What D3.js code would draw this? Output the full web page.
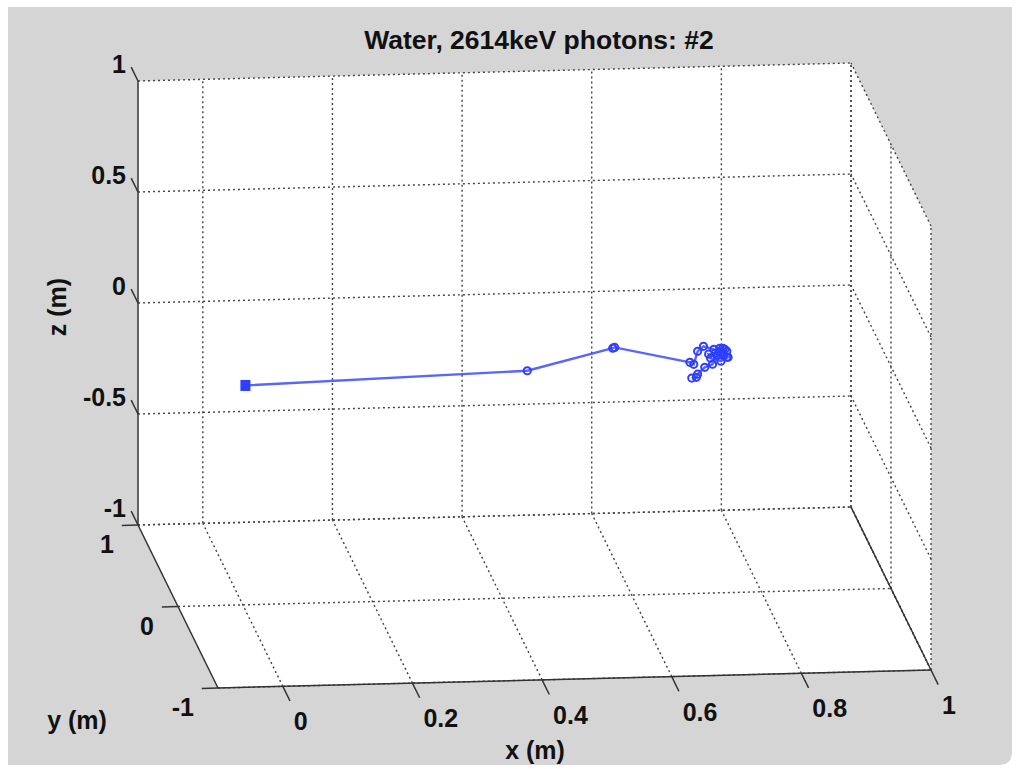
<!DOCTYPE html>
<html><head><meta charset="utf-8">
<script src="https://cdn.jsdelivr.net/npm/d3@7/dist/d3.min.js"></script>
<style>body{margin:0;background:#fff}svg text{font-family:"Liberation Sans",Arial,Helvetica,sans-serif;font-weight:bold;fill:#111}</style>
</head><body>
<svg id="c" width="1019" height="769"></svg>
<script>
// ---------- data ----------
const titleText = "Water, 2614keV photons: #2";
const xLabelText = "x (m)", yLabelText = "y (m)", zLabelText = "z (m)";
const xDomain = [-0.1, 1];
const yDomain = [-1, 1];
const zDomain = [-1, 1];
const xTicks = [0, 0.2, 0.4, 0.6, 0.8, 1];
const yTicks = [-1, 0, 1];
const zTicks = [-1, -0.5, 0, 0.5, 1];
const xTickLabels = ["0", "0.2", "0.4", "0.6", "0.8", "1"];
const yTickLabels = ["-1", "0", "1"];
const zTickLabels = ["-1", "-0.5", "0", "0.5", "1"];
// photon track (interaction points)
const trackX = [0.004, 0.445, 0.583, 0.586, 0.699, 0.708, 0.714, 0.723, 0.739, 0.759, 0.747, 0.744, 0.731, 0.734, 0.750, 0.761, 0.754, 0.753, 0.745, 0.751, 0.759, 0.748, 0.741, 0.756, 0.737, 0.725, 0.714, 0.712, 0.705];
const trackY = [0, 0.10, 0.20, 0.20, 0.15, 0.20, 0.20, 0.20, 0.20, 0.20, 0.20, 0.20, 0.20, 0.20, 0.20, 0.20, 0.20, 0.20, 0.20, 0.20, 0.20, 0.20, 0.20, 0.20, 0.20, 0.20, 0.20, 0.20, 0.20];
const trackZ = [-0.012, -0.015, 0.040, 0.043, -0.014, -0.042, 0.016, 0.038, 0.023, 0.013, 0.014, -0.004, 0.002, -0.017, -0.031, -0.014, -0.005, 0.027, -0.004, 0.009, -0.014, 0.027, 0.005, 0.022, -0.044, -0.057, -0.087, -0.101, -0.104];

// ---------- layout ----------
const W = 1019, H = 769;
const origin = [218, 688];       // screen position of (xmin, ymin, zmin)
const eu = [713, -18];           // full x extent
const ev = [-80, -163];          // full y extent (front -> back)
const ew = [0, -444];            // full z extent
const xs = d3.scaleLinear().domain(xDomain).range([0, 1]);
const ys = d3.scaleLinear().domain(yDomain).range([0, 1]);
const zs = d3.scaleLinear().domain(zDomain).range([0, 1]);
function P(x, y, z) {
  const u = xs(x), v = ys(y), w = zs(z);
  return [origin[0] + u * eu[0] + v * ev[0] + w * ew[0],
          origin[1] + u * eu[1] + v * ev[1] + w * ew[1]];
}
const [x0, x1] = xDomain, [y0, y1] = yDomain, [z0, z1] = zDomain;

const svg = d3.select("#c");
svg.append("rect").attr("width", W).attr("height", H).attr("fill", "#fff");
svg.append("path")
  .attr("d", `M8,7 H1012 V752 Q1012,765 999,765 H8 Z`)
  .attr("fill", "#d5d5d5");

// faces
const poly = pts => "M" + pts.map(p => p.join(",")).join("L") + "Z";
const faces = [
  [P(x0,y1,z0), P(x1,y1,z0), P(x1,y1,z1), P(x0,y1,z1)],
  [P(x0,y0,z0), P(x1,y0,z0), P(x1,y1,z0), P(x0,y1,z0)],
  [P(x1,y0,z0), P(x1,y1,z0), P(x1,y1,z1), P(x1,y0,z1)]
];
svg.selectAll("path.face").data(faces).enter().append("path")
  .attr("class", "face").attr("d", poly).attr("fill", "#fff");

// grid lines
const grid = [];
xTicks.forEach(t => { grid.push([P(t,y1,z0), P(t,y1,z1)]); grid.push([P(t,y0,z0), P(t,y1,z0)]); });
zTicks.forEach(t => { grid.push([P(x0,y1,t), P(x1,y1,t)]); grid.push([P(x1,y0,t), P(x1,y1,t)]); });
yTicks.forEach(t => { grid.push([P(x0,t,z0), P(x1,t,z0)]); grid.push([P(x1,t,z0), P(x1,t,z1)]); });
svg.selectAll("line.grid").data(grid).enter().append("line")
  .attr("class", "grid")
  .attr("x1", d => d[0][0]).attr("y1", d => d[0][1])
  .attr("x2", d => d[1][0]).attr("y2", d => d[1][1])
  .attr("stroke", "#444").attr("stroke-width", 1.4)
  .attr("stroke-dasharray", "2,3");

// axis lines
const axes = [
  [P(x0,y1,z0), P(x0,y1,z1)],
  [P(x0,y0,z0), P(x0,y1,z0)],
  [P(x0,y0,z0), P(x1,y0,z0)],
  [P(x1,y0,z0), P(x1,y1,z0)]
];
svg.selectAll("line.axis").data(axes).enter().append("line")
  .attr("x1", d => d[0][0]).attr("y1", d => d[0][1])
  .attr("x2", d => d[1][0]).attr("y2", d => d[1][1])
  .attr("stroke", "#333").attr("stroke-width", 1.5);

// ticks
const ticks = [];
xTicks.forEach(t => ticks.push([P(t,y0,z0), P(t,y0-0.18,z0)]));
yTicks.forEach(t => ticks.push([P(x0,t,z0), P(x0-0.025,t,z0)]));
zTicks.forEach(t => ticks.push([P(x0,y1,t), P(x0,y1+0.17,t)]));
svg.selectAll("line.tick").data(ticks).enter().append("line")
  .attr("x1", d => d[0][0]).attr("y1", d => d[0][1])
  .attr("x2", d => d[1][0]).attr("y2", d => d[1][1])
  .attr("stroke", "#333").attr("stroke-width", 1.5);

const fs = 25;
// tick labels
svg.selectAll("text.xt").data(xTicks).enter().append("text")
  .attr("x", d => P(d,y0,z0)[0] + 11).attr("y", d => P(d,y0,z0)[1] + 35)
  .attr("dominant-baseline", "central").attr("text-anchor", "start")
  .attr("font-size", fs).text((d, i) => xTickLabels[i]);
svg.selectAll("text.yt").data(yTicks).enter().append("text")
  .attr("x", d => P(x0,d,z0)[0] - 24).attr("y", d => P(x0,d,z0)[1] + 19)
  .attr("dominant-baseline", "central").attr("text-anchor", "end")
  .attr("font-size", fs).text((d, i) => yTickLabels[i]);
svg.selectAll("text.zt").data(zTicks).enter().append("text")
  .attr("x", d => P(x0,y1,d)[0] - 12).attr("y", d => P(x0,y1,d)[1] - 17)
  .attr("dominant-baseline", "central").attr("text-anchor", "end")
  .attr("font-size", fs).text((d, i) => zTickLabels[i]);

// axis labels + title
svg.append("text").attr("x", 535).attr("y", 750).attr("text-anchor", "middle")
  .attr("dominant-baseline", "central").attr("font-size", fs).text(xLabelText);
svg.append("text").attr("x", 77).attr("y", 720).attr("text-anchor", "middle")
  .attr("dominant-baseline", "central").attr("font-size", fs).text(yLabelText);
svg.append("text").attr("transform", "translate(57,307) rotate(-90)").attr("text-anchor", "middle")
  .attr("dominant-baseline", "central").attr("font-size", fs).text(zLabelText);
svg.append("text").attr("x", 539).attr("y", 40).attr("text-anchor", "middle")
  .attr("dominant-baseline", "central").attr("font-size", 26.5).text(titleText);

// track
const pts = trackX.map((x, i) => P(x, trackY[i], trackZ[i]));
const blue = "#2f3fff";
svg.append("path").attr("d", d3.line()(pts)).attr("fill", "none")
  .attr("stroke", blue).attr("stroke-width", 2.4).attr("stroke-opacity", 0.8);
svg.selectAll("circle.m").data(pts.slice(1)).enter().append("circle")
  .attr("cx", d => d[0]).attr("cy", d => d[1]).attr("r", 3.6)
  .attr("fill", "none").attr("stroke", blue).attr("stroke-width", 2);
svg.append("rect").attr("x", pts[0][0] - 5).attr("y", pts[0][1] - 5.5)
  .attr("width", 10).attr("height", 11).attr("fill", blue);
</script>
</body></html>
